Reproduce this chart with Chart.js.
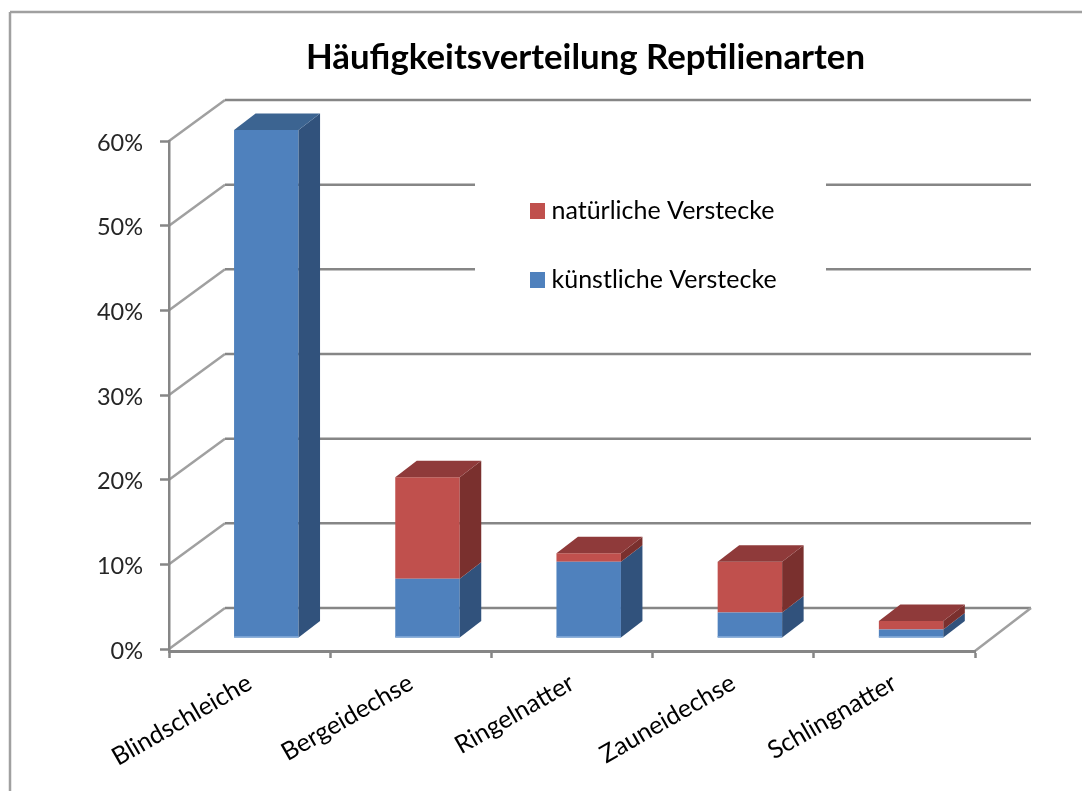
<!DOCTYPE html>
<html>
<head>
<meta charset="utf-8">
<script src="https://cdn.jsdelivr.net/npm/chart.js@4"></script>
<style>
  html, body { margin: 0; padding: 0; background: #fff; }
  canvas { display: block; }
</style>
</head>
<body>
<canvas id="reptilien" width="1082" height="791"></canvas>
<script>
var categories = ['Blindschleiche', 'Bergeidechse', 'Ringelnatter', 'Zauneidechse', 'Schlingnatter'];
var kuenstliche = [60, 7, 9, 3, 1];
var natuerliche = [0, 12, 1, 6, 1];
var seriesNames = ['künstliche Verstecke', 'natürliche Verstecke'];
var titleText = 'Häufigkeitsverteilung Reptilienarten';

var blue = { front: '#4f81bd', side: '#31527c', top: '#3c6491', edge: '#7ba3d4' };
var red = { front: '#c0504d', side: '#7a302e', top: '#8f3a3a' };
var gridColor = '#868686';
var wallColor = '#a0a0a0';
var fontName = 'Lato, "Open Sans", sans-serif';

// how far the back wall and the bars sit behind the axis plane
var wall = { x: 56, y: -41 };
var barShift = { x: 16.7, y: -11 };
var depth = { x: 21.5, y: -16.5 };

function line(ctx, x1, y1, x2, y2, color, width) {
  ctx.beginPath();
  ctx.moveTo(x1, y1);
  ctx.lineTo(x2, y2);
  ctx.strokeStyle = color;
  ctx.lineWidth = width;
  ctx.stroke();
}

function face(ctx, pts, color) {
  ctx.beginPath();
  ctx.moveTo(pts[0][0], pts[0][1]);
  for (var i = 1; i < pts.length; i++) ctx.lineTo(pts[i][0], pts[i][1]);
  ctx.closePath();
  ctx.fillStyle = color;
  ctx.fill();
}

var fake3d = {
  id: 'fake3d',
  afterLayout: function (chart) {
    // title is centred over the plot, not the canvas; legend floats on the wall
    chart.titleBlock.left = 306;
    chart.titleBlock.right = 865;
    chart.legend.left = 492;
    chart.legend.right = 800;
    chart.legend.top = 154.5;
    chart.legend.bottom = 500;
    chart.scales.x.top += 2;
    chart.scales.x.bottom += 2;
  },
  beforeDraw: function (chart) {
    var ctx = chart.ctx, a = chart.chartArea, y = chart.scales.y;
    ctx.save();
    // outer frame
    line(ctx, 10, 791, 10, 12, wallColor, 2.5);
    line(ctx, 10, 12, 1082, 12, wallColor, 2.5);
    // walls
    y.ticks.forEach(function (t) {
      var py = y.getPixelForValue(t.value);
      line(ctx, a.left, py, a.left + wall.x, py + wall.y, wallColor, 2.5);
      line(ctx, a.left + wall.x, py + wall.y, a.right + wall.x, py + wall.y, gridColor, 2.5);
    });
    var floorY = y.getPixelForValue(0);
    line(ctx, a.right, floorY + 2, a.right + wall.x, floorY + wall.y, wallColor, 2.5);
    // the legend sits on a white box
    ctx.fillStyle = '#fff';
    ctx.fillRect(475, 170, 351, 130);
    ctx.restore();
  },
  beforeDatasetsDraw: function (chart) {
    chart.ctx.save();
    chart.ctx.translate(barShift.x, barShift.y);
  },
  afterDatasetsDraw: function (chart) {
    var ctx = chart.ctx;
    var palettes = [blue, red];
    var metas = [chart.getDatasetMeta(0), chart.getDatasetMeta(1)];
    categories.forEach(function (c, i) {
      var topSeries = natuerliche[i] > 0 ? 1 : 0;
      metas.forEach(function (meta, s) {
        var bar = meta.data[i];
        if (Math.abs(bar.base - bar.y) < 0.01) return;
        var right = bar.x + bar.width / 2, left = bar.x - bar.width / 2;
        face(ctx, [[right, bar.y], [right + depth.x, bar.y + depth.y],
          [right + depth.x, bar.base + depth.y], [right, bar.base]], palettes[s].side);
        if (s === topSeries) {
          face(ctx, [[left, bar.y], [left + depth.x, bar.y + depth.y],
            [right + depth.x, bar.y + depth.y], [right, bar.y]], palettes[s].top);
        }
        if (s === 0) {
          ctx.fillStyle = blue.edge;
          ctx.fillRect(left, bar.base - 1.5, bar.width, 1.5);
        }
      });
    });
    ctx.restore();
  }
};

var chart = new Chart(document.getElementById('reptilien').getContext('2d'), {
  type: 'bar',
  plugins: [fake3d],
  data: {
    labels: categories,
    datasets: [{
      label: seriesNames[0],
      data: kuenstliche,
      backgroundColor: blue.front,
      borderWidth: 0,
      clip: false
    }, {
      label: seriesNames[1],
      data: natuerliche,
      backgroundColor: red.front,
      borderWidth: 0,
      clip: false
    }]
  },
  options: {
    responsive: false,
    animation: false,
    layout: { padding: { left: 69, right: 107, top: 0, bottom: 0 } },
    datasets: { bar: { barPercentage: 0.4, categoryPercentage: 1 } },
    scales: {
      x: {
        stacked: true,
        afterFit: function (scale) { scale.height = 142; },
        border: { display: true, color: gridColor, width: 3 },
        grid: { drawOnChartArea: false, drawTicks: true, tickLength: 7, tickWidth: 2.5, color: gridColor },
        ticks: {
          font: { family: fontName, size: 25 },
          color: '#000',
          minRotation: 30,
          maxRotation: 30,
          padding: 10,
          labelOffset: 0
        }
      },
      y: {
        stacked: true,
        min: 0,
        max: 60,
        afterFit: function (scale) { scale.width = 100; },
        border: { display: true, color: gridColor, width: 2.5 },
        grid: { drawOnChartArea: false, drawTicks: true, tickLength: 9, tickWidth: 2.5, color: gridColor },
        ticks: {
          stepSize: 10,
          font: { family: fontName, size: 23.5 },
          color: '#262626',
          padding: 17,
          labelOffset: 2,
          callback: function (v) { return v + '%'; }
        }
      }
    },
    plugins: {
      tooltip: { enabled: false },
      title: {
        display: true,
        text: titleText,
        color: '#000',
        font: { family: fontName, size: 35, weight: 'bold', lineHeight: 1 },
        padding: { top: 40, bottom: 66 }
      },
      legend: {
        display: true,
        position: 'chartArea',
        align: 'start',
        reverse: true,
        labels: {
          boxWidth: 3,
          boxHeight: 4,
          padding: 44,
          color: '#000',
          font: { family: fontName, size: 25 },
          generateLabels: function (c) {
            return Chart.defaults.plugins.legend.labels.generateLabels(c).map(function (item) {
              // stroke in the fill colour so the swatch sits closer to its text
              item.strokeStyle = item.fillStyle;
              item.lineWidth = 12;
              return item;
            });
          }
        }
      }
    }
  }
});
</script>
</body>
</html>
